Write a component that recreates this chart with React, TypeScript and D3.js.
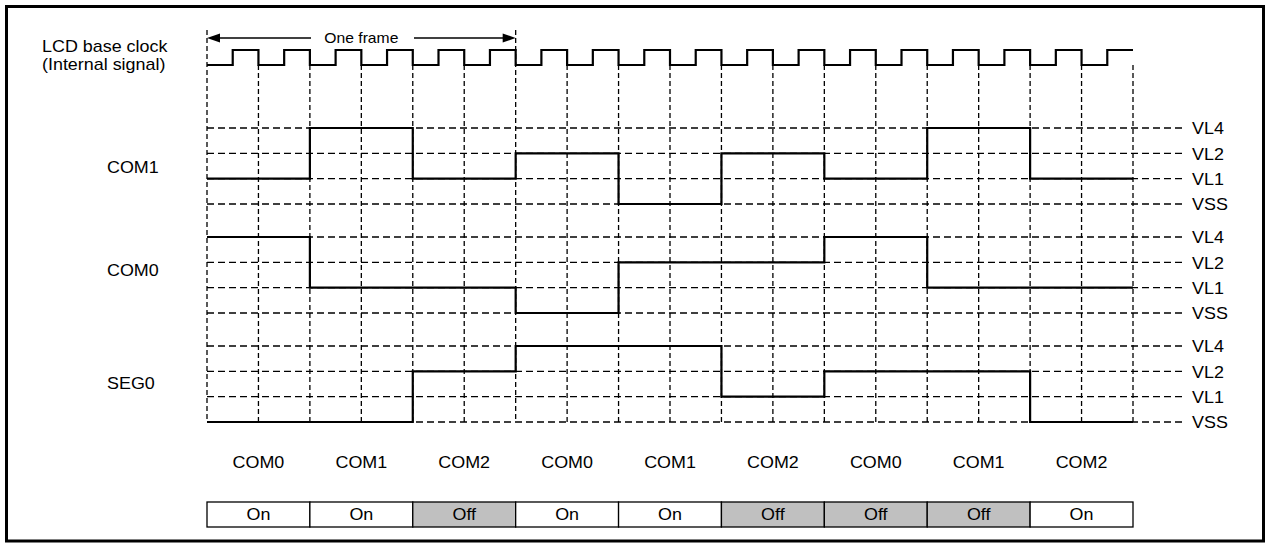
import React from "react";
import * as d3 from "d3";

const slotLabels = ["COM0", "COM1", "COM2", "COM0", "COM1", "COM2", "COM0", "COM1", "COM2"];
const segStates = ["On", "On", "Off", "On", "On", "Off", "Off", "Off", "On"];
const levels = ["VL4", "VL2", "VL1", "VSS"];
const com1 = ["VL1", "VL4", "VL1", "VL2", "VSS", "VL2", "VL1", "VL4", "VL1"];
const com0 = ["VL4", "VL1", "VL1", "VSS", "VL2", "VL2", "VL4", "VL1", "VL1"];
const seg0 = ["VSS", "VSS", "VL2", "VL4", "VL4", "VL1", "VL2", "VL2", "VSS"];
const clock = [
  0, 1, 0, 1, 0, 1, 0, 1, 0, 1, 0, 1, 0, 1, 0, 1, 0, 1,
  0, 1, 0, 1, 0, 1, 0, 1, 0, 1, 0, 1, 0, 1, 0, 1, 0, 1,
];
const signalNames = ["COM1", "COM0", "SEG0"];

const W = 1267;
const H = 547;
const FONT = "'Liberation Sans', Arial, sans-serif";

export default function App() {
  const x = d3.scaleLinear().domain([0, 9]).range([207, 1133]);
  const xq = d3.scaleLinear().domain([0, 36]).range([207, 1133]);
  const yClock = d3.scaleLinear().domain([0, 1]).range([65, 50]);
  const groupTop = d3.scalePoint<string>().domain(signalNames).range([128, 346]);
  const yLevel = d3.scalePoint<string>().domain(levels).range([0, 76]);
  const labelY: Record<string, number> = { COM1: 168, COM0: 271, SEG0: 384 };
  const waves: Record<string, string[]> = { COM1: com1, COM0: com0, SEG0: seg0 };

  const stepLine = d3
    .line<[number, number]>()
    .x((d) => d[0])
    .y((d) => d[1])
    .curve(d3.curveStepAfter);

  const clockPts: [number, number][] = clock.map((v, j) => [xq(j), yClock(v)]);
  clockPts.push([xq(36), yClock(clock[clock.length - 1])]);

  const halfTicks = d3.range(0, 19).map((k) => x(k / 2));
  const bottomY = (groupTop("SEG0") as number) + (yLevel("VSS") as number);

  const fs = 16;
  const sx = 1.12;
  const T = (props: any) => {
    const { x: tx, y: ty, anchor, children } = props;
    return (
      <text
        x={0}
        y={0}
        transform={`translate(${tx},${ty}) scale(${sx},1)`}
        textAnchor={anchor || "start"}
        dominantBaseline="central"
        fontFamily={FONT}
        fontSize={fs}
        fill="#000"
      >
        {children}
      </text>
    );
  };

  return (
    <svg
      width={W}
      height={H}
      style={{ position: "absolute", left: 0, top: 0, background: "#fff" }}
    >
      <rect x={6.5} y={6.5} width={1257} height={534.5} fill="#fff" stroke="#000" strokeWidth={3} />

      {/* vertical dashed time grid */}
      {halfTicks.map((xx, k) => (
        <line
          key={"v" + k}
          x1={xx}
          x2={xx}
          y1={k === 0 || k === 6 ? 30 : yClock(0)}
          y2={bottomY}
          stroke="#000"
          strokeWidth={1.3}
          strokeDasharray="5,3"
        />
      ))}

      {/* horizontal dashed level lines and right labels */}
      {signalNames.map((s) =>
        levels.map((lv) => {
          const yy = (groupTop(s) as number) + (yLevel(lv) as number);
          return (
            <g key={s + lv}>
              <line
                x1={x(0)}
                x2={1183}
                y1={yy}
                y2={yy}
                stroke="#000"
                strokeWidth={1.3}
                strokeDasharray="7,4"
              />
              <T x={1192} y={yy + 1}>{lv}</T>
            </g>
          );
        })
      )}

      {/* waveforms */}
      {signalNames.map((s) => {
        const pts: [number, number][] = waves[s].map((lv, i) => [
          x(i),
          (groupTop(s) as number) + (yLevel(lv) as number),
        ]);
        pts.push([x(9), pts[pts.length - 1][1]]);
        return (
          <path key={"w" + s} d={stepLine(pts) || ""} fill="none" stroke="#000" strokeWidth={2.2} />
        );
      })}
      {signalNames.map((s) => (
        <T key={"l" + s} x={107} y={labelY[s]}>{s}</T>
      ))}

      {/* clock */}
      <path d={stepLine(clockPts) || ""} fill="none" stroke="#000" strokeWidth={2.2} />
      <T x={42} y={47}>LCD base clock</T>
      <T x={42} y={65}>(Internal signal)</T>

      {/* one frame arrow */}
      <line x1={x(0) + 10} x2={311} y1={38} y2={38} stroke="#000" strokeWidth={1.3} />
      <line x1={414} x2={x(3) - 10} y1={38} y2={38} stroke="#000" strokeWidth={1.3} />
      <path d={`M${x(0)},38 L${x(0) + 13},33.5 L${x(0) + 13},42.5 Z`} fill="#000" />
      <path d={`M${x(3)},38 L${x(3) - 13},33.5 L${x(3) - 13},42.5 Z`} fill="#000" />
      <text
        transform={`translate(${(x(0) + x(3)) / 2},38) scale(1.12,1)`}
        textAnchor="middle"
        dominantBaseline="central"
        fontFamily={FONT}
        fontSize={14}
      >
        One frame
      </text>

      {/* bottom slot labels */}
      {slotLabels.map((l, i) => (
        <T key={"s" + i} x={(x(i) + x(i + 1)) / 2} y={463} anchor="middle">{l}</T>
      ))}

      {/* on/off boxes */}
      {segStates.map((st, i) => (
        <g key={"b" + i}>
          <rect
            x={x(i)}
            y={502}
            width={x(i + 1) - x(i)}
            height={25}
            fill={st === "Off" ? "#c0c0c0" : "#fff"}
            stroke="#000"
            strokeWidth={1.3}
          />
          <T x={(x(i) + x(i + 1)) / 2} y={514.5} anchor="middle">{st}</T>
        </g>
      ))}
    </svg>
  );
}
